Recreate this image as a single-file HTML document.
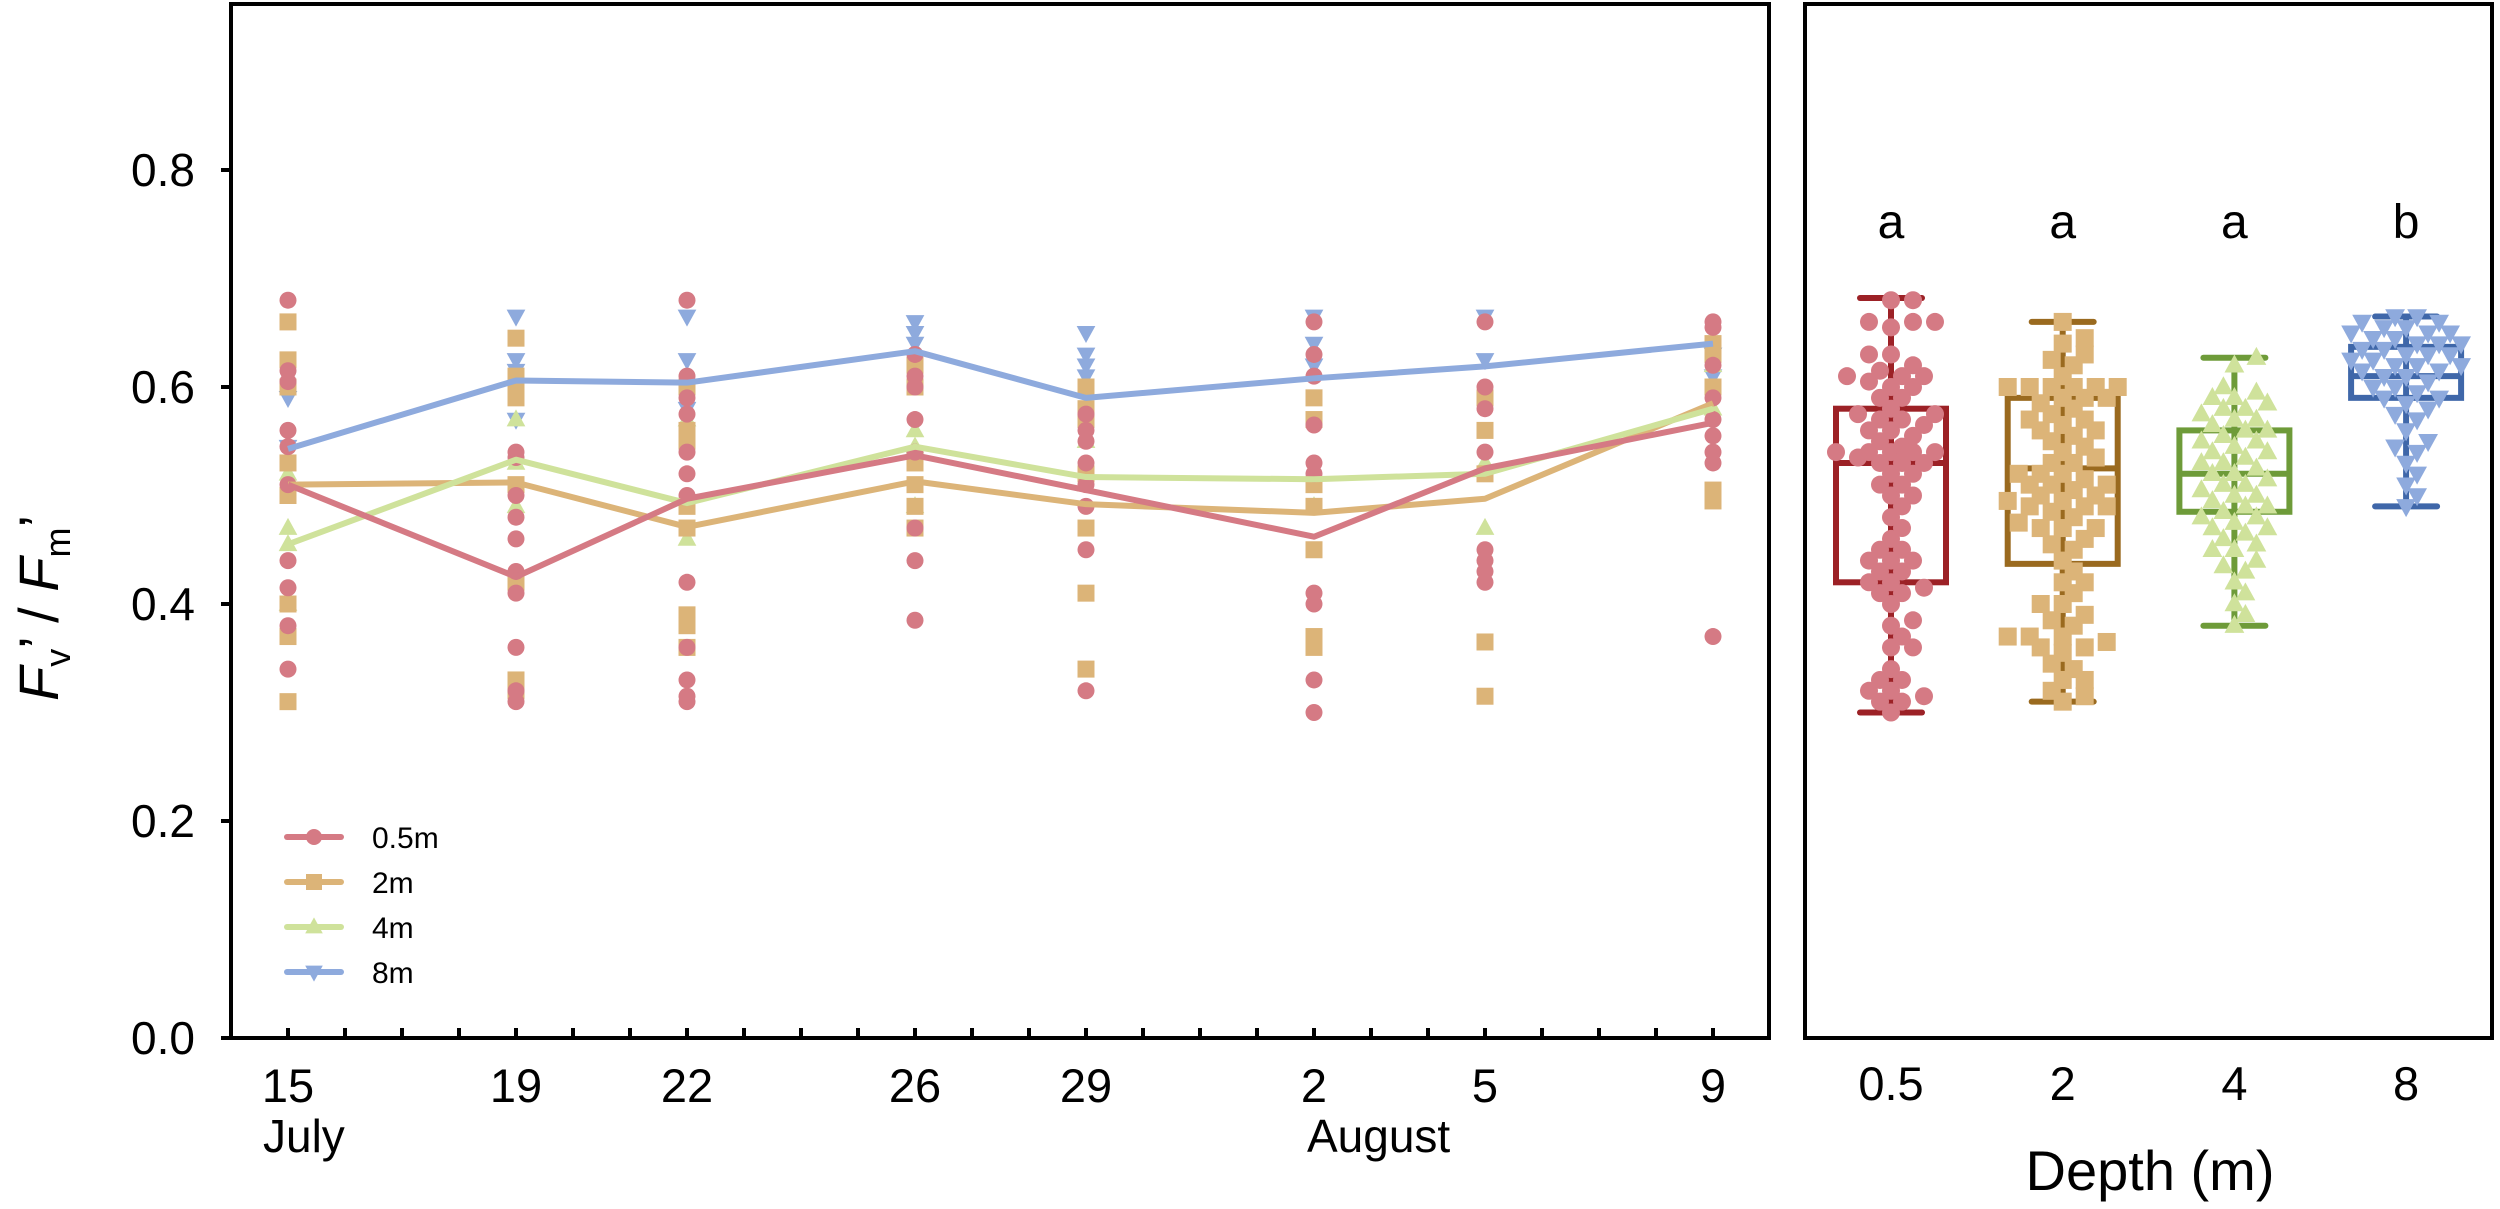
<!DOCTYPE html>
<html><head><meta charset="utf-8"><style>
html,body{margin:0;padding:0;background:#fff;}
svg{display:block;font-family:"Liberation Sans",Arial,sans-serif;}
</style></head><body>
<svg id="chart" width="2500" height="1209" viewBox="0 0 2500 1209" xmlns="http://www.w3.org/2000/svg">
<g id="left"></g>
<g id="right"></g>
</svg>
<script>
// ---- data ----
const dateDays = [0, 4, 7, 11, 14, 18, 21, 25];
const dateLabels = ["15", "19", "22", "26", "29", "2", "5", "9"];
const yTicks = [0.0, 0.2, 0.4, 0.6, 0.8];
const seriesNames = ["0.5m", "2m", "4m", "8m"];
const mean05 = [0.51, 0.425, 0.497, 0.537, 0.505, 0.462, 0.525, 0.567];
const mean2 = [0.51, 0.512, 0.471, 0.513, 0.492, 0.484, 0.497, 0.585];
const mean4 = [0.455, 0.533, 0.493, 0.545, 0.517, 0.515, 0.52, 0.58];
const mean8 = [0.543, 0.606, 0.604, 0.633, 0.59, 0.608, 0.619, 0.64];
const pts05 = [
 [0.68,0.615,0.605,0.56,0.545,0.51,0.44,0.415,0.38,0.34],
 [0.54,0.535,0.50,0.48,0.46,0.43,0.41,0.36,0.32,0.31],
 [0.68,0.61,0.59,0.575,0.54,0.52,0.50,0.42,0.36,0.33,0.315,0.31],
 [0.63,0.61,0.60,0.57,0.54,0.47,0.44,0.385],
 [0.575,0.56,0.55,0.53,0.51,0.49,0.45,0.32],
 [0.66,0.63,0.61,0.565,0.53,0.52,0.41,0.40,0.33,0.30],
 [0.66,0.60,0.58,0.54,0.45,0.44,0.43,0.42],
 [0.66,0.655,0.62,0.59,0.57,0.555,0.54,0.53,0.37]];
const pts2 = [
 [0.66,0.625,0.60,0.53,0.50,0.40,0.37,0.31],
 [0.645,0.61,0.60,0.59,0.51,0.42,0.33,0.32],
 [0.60,0.56,0.55,0.49,0.47,0.39,0.38,0.36],
 [0.62,0.60,0.53,0.51,0.49,0.47],
 [0.60,0.58,0.57,0.52,0.47,0.41,0.34],
 [0.59,0.57,0.51,0.49,0.45,0.37,0.36],
 [0.59,0.56,0.52,0.365,0.315],
 [0.64,0.63,0.60,0.505,0.495]];
const pts4 = [
 [0.52,0.47,0.455,0.40],[0.57,0.53,0.49],[0.57,0.46],[0.56,0.545,0.49],
 [0.55,0.51],[0.52,0.49],[0.53,0.47],[0.62,0.58]];
const pts8 = [
 [0.59,0.545],[0.665,0.625,0.615,0.60,0.57],[0.665,0.625,0.58],[0.66,0.65,0.64],
 [0.65,0.63,0.62,0.61],[0.665,0.64,0.62],[0.665,0.625],[0.63,0.61]];
// all individual measurements per depth (box panel)
const box05 = [].concat(...pts05);
const box2 = [].concat(...pts2, [0.585,0.575,0.565,0.555,0.545,0.54,0.535,0.52,0.515,0.50,0.495,0.485,0.48,0.475,0.46,0.455,0.44,0.43,0.42,0.40,0.385,0.37,0.355,0.345,0.33]);
const box4 = [0.627,0.62,0.60,0.595,0.59,0.59,0.585,0.58,0.58,0.575,0.57,0.57,0.565,0.56,0.56,0.555,0.55,0.55,0.545,0.54,0.54,0.535,0.53,0.53,0.525,0.52,0.52,0.515,0.51,0.51,0.505,0.50,0.50,0.495,0.49,0.49,0.485,0.48,0.48,0.475,0.47,0.47,0.465,0.46,0.455,0.45,0.45,0.44,0.435,0.43,0.42,0.41,0.40,0.39,0.38];
const box8 = [0.665,0.665,0.66,0.66,0.655,0.655,0.65,0.65,0.65,0.645,0.645,0.64,0.64,0.64,0.635,0.635,0.63,0.63,0.63,0.625,0.625,0.62,0.62,0.62,0.615,0.615,0.61,0.61,0.605,0.60,0.60,0.595,0.59,0.59,0.585,0.58,0.575,0.57,0.56,0.55,0.545,0.54,0.53,0.52,0.51,0.50,0.49];
const boxCats = ["0.5", "2", "4", "8"];
const boxMin = [0.30, 0.31, 0.38, 0.49];
const boxQ1 = [0.42, 0.437, 0.485, 0.59];
const boxMed = [0.53, 0.525, 0.52, 0.61];
const boxQ3 = [0.58, 0.59, 0.56, 0.637];
const boxMax = [0.682, 0.66, 0.627, 0.665];
const sigLetters = ["a", "a", "a", "b"];

// ---- layout ----
const NS = "http://www.w3.org/2000/svg";
const L = {x0: 231, x1: 1769, y0: 4, y1: 1038};
const R = {x0: 1805, x1: 2492};
const dayX = d => 288 + 57 * d;
const yS = v => 1038 - 1085 * v;
const catX = i => 1891 + 171.7 * i;
const fill = ["#d57a84", "#dcb478", "#cfe29b", "#8eaadd"];
const dark = ["#9c2126", "#9a6a1f", "#6e9b39", "#3f67a9"];
const shapes = ["circle", "square", "tri-up", "tri-down"];
const means = [mean05, mean2, mean4, mean8];
const pts = [pts05, pts2, pts4, pts8];
const boxPts = [box05, box2, box4, box8];

function mk(tag, attrs, parent) {
  const e = document.createElementNS(NS, tag);
  for (const k in attrs) e.setAttribute(k, attrs[k]);
  parent.appendChild(e);
  return e;
}
function marker(shape, x, y, s, col, parent) {
  if (shape === "circle") return mk("circle", {cx: x, cy: y, r: s, fill: col}, parent);
  if (shape === "square") return mk("rect", {x: x - s, y: y - s, width: 2 * s, height: 2 * s, fill: col}, parent);
  if (shape === "tri-up") return mk("polygon", {points: `${x},${y - s * 1.2} ${x - s * 1.1},${y + s * 0.8} ${x + s * 1.1},${y + s * 0.8}`, fill: col}, parent);
  return mk("polygon", {points: `${x},${y + s * 1.2} ${x - s * 1.1},${y - s * 0.8} ${x + s * 1.1},${y - s * 0.8}`, fill: col}, parent);
}

const left = document.getElementById("left");
const right = document.getElementById("right");

for (let s = 3; s >= 0; s--) {
  const g = mk("g", {}, left);
  
  
  pts[s].forEach((arr, i) => arr.forEach(v => {
    const m = marker(shapes[s], dayX(dateDays[i]), yS(v), 8.5, fill[s], g);
    
    
  }));
}
[1, 2, 0, 3].forEach(s => {
  const d = means[s].map((v, i) => (i ? "L" : "M") + dayX(dateDays[i]) + "," + yS(v)).join(" ");
  const p = mk("path", {d: d, fill: "none", stroke: fill[s], "stroke-width": 6, "stroke-linejoin": "round"}, left);
  
  
});

const fr = mk("rect", {x: L.x0, y: L.y0, width: L.x1 - L.x0, height: L.y1 - L.y0, fill: "none", stroke: "#000", "stroke-width": 4}, left);


yTicks.forEach(v => {
  const t = mk("line", {x1: L.x0 - 10, x2: L.x0, y1: yS(v), y2: yS(v), stroke: "#000", "stroke-width": 4}, left);
  
  
  const lb = mk("text", {x: 195, y: yS(v) + 16, "font-size": 46, "text-anchor": "end", fill: "#000"}, left);
  lb.textContent = v.toFixed(1);
  
  
});
for (let d = 0; d <= 25; d++) {
  const t = mk("line", {x1: dayX(d), x2: dayX(d), y1: L.y1, y2: L.y1 - 10, stroke: "#000", "stroke-width": 4}, left);
  
  
}
dateLabels.forEach((lab, i) => {
  const t = mk("text", {x: dayX(dateDays[i]), y: 1102, "font-size": 47, "text-anchor": "middle", fill: "#000"}, left);
  t.textContent = lab;
  
  
});
const jul = mk("text", {x: 263, y: 1152, "font-size": 46, fill: "#000"}, left);
jul.textContent = "July";


const aug = mk("text", {x: 1307, y: 1152, "font-size": 46, fill: "#000"}, left);
aug.textContent = "August";



const yt = mk("text", {transform: "translate(58,608) rotate(-90)", "font-size": 56, "text-anchor": "middle", fill: "#000"}, left);


yt.innerHTML = '<tspan font-style="italic">F</tspan><tspan font-size="36" dy="12">v</tspan><tspan dy="-12">’ / </tspan><tspan font-style="italic">F</tspan><tspan font-size="36" dy="12">m</tspan><tspan dy="-12">’</tspan>';

const leg = mk("g", {}, left);


seriesNames.forEach((n, s) => {
  const y = 837 + 45 * s;
  const e = mk("g", {}, leg);
  
  
  mk("line", {x1: 287, x2: 341, y1: y, y2: y, stroke: fill[s], "stroke-width": 6, "stroke-linecap": "round"}, e);
  marker(shapes[s], 314, y, 8, fill[s], e);
  const t = mk("text", {x: 372, y: y + 11, "font-size": 30, fill: "#000"}, e);
  t.textContent = n;
});

// ---- right box panel ----
const rf = mk("rect", {x: R.x0, y: L.y0, width: R.x1 - R.x0, height: L.y1 - L.y0, fill: "none", stroke: "#000", "stroke-width": 4}, right);


boxCats.forEach((c, i) => {
  const cx = catX(i);
  const g = mk("g", {}, right);
  
  
  const sw = 6, col = dark[i];
  mk("line", {x1: cx, x2: cx, y1: yS(boxMax[i]), y2: yS(boxMin[i]), stroke: col, "stroke-width": sw}, g);
  mk("line", {x1: cx - 31, x2: cx + 31, y1: yS(boxMax[i]), y2: yS(boxMax[i]), stroke: col, "stroke-width": sw, "stroke-linecap": "round"}, g);
  mk("line", {x1: cx - 31, x2: cx + 31, y1: yS(boxMin[i]), y2: yS(boxMin[i]), stroke: col, "stroke-width": sw, "stroke-linecap": "round"}, g);
  mk("rect", {x: cx - 55, y: yS(boxQ3[i]), width: 110, height: yS(boxQ1[i]) - yS(boxQ3[i]), fill: "none", stroke: col, "stroke-width": sw}, g);
  mk("line", {x1: cx - 55, x2: cx + 55, y1: yS(boxMed[i]), y2: yS(boxMed[i]), stroke: col, "stroke-width": sw}, g);
  const vals = boxPts[i].slice().sort((a, b) => a - b);
  const placed = [];
  const sw2 = mk("g", {}, g);
  
  
  vals.forEach(v => {
    const y = yS(v);
    let best = 0, bestD = -1;
    for (let k = 0; k < 11; k++) {
      const cand = (k % 2 ? 1 : -1) * Math.ceil(k / 2) * 11;
      const dmin = placed.length ? Math.min(...placed.map(p => Math.hypot(p[0] - (cx + cand), p[1] - y))) : 99;
      if (dmin >= 15) { best = cand; bestD = dmin; break; }
      if (dmin > bestD) { bestD = dmin; best = cand; }
    }
    placed.push([cx + best, y]);
    const m = marker(shapes[i], cx + best, y, 9, fill[i], sw2);
    
    
  });
  const lt = mk("text", {x: cx, y: 238, "font-size": 48, "text-anchor": "middle", fill: "#000"}, right);
  lt.textContent = sigLetters[i];
  
  
  const xl = mk("text", {x: cx, y: 1100, "font-size": 47, "text-anchor": "middle", fill: "#000"}, right);
  xl.textContent = c;
  
  
});
const xt = mk("text", {x: 2150, y: 1190, "font-size": 56, "text-anchor": "middle", fill: "#000"}, right);
xt.textContent = "Depth (m)";


</script>
</body></html>
